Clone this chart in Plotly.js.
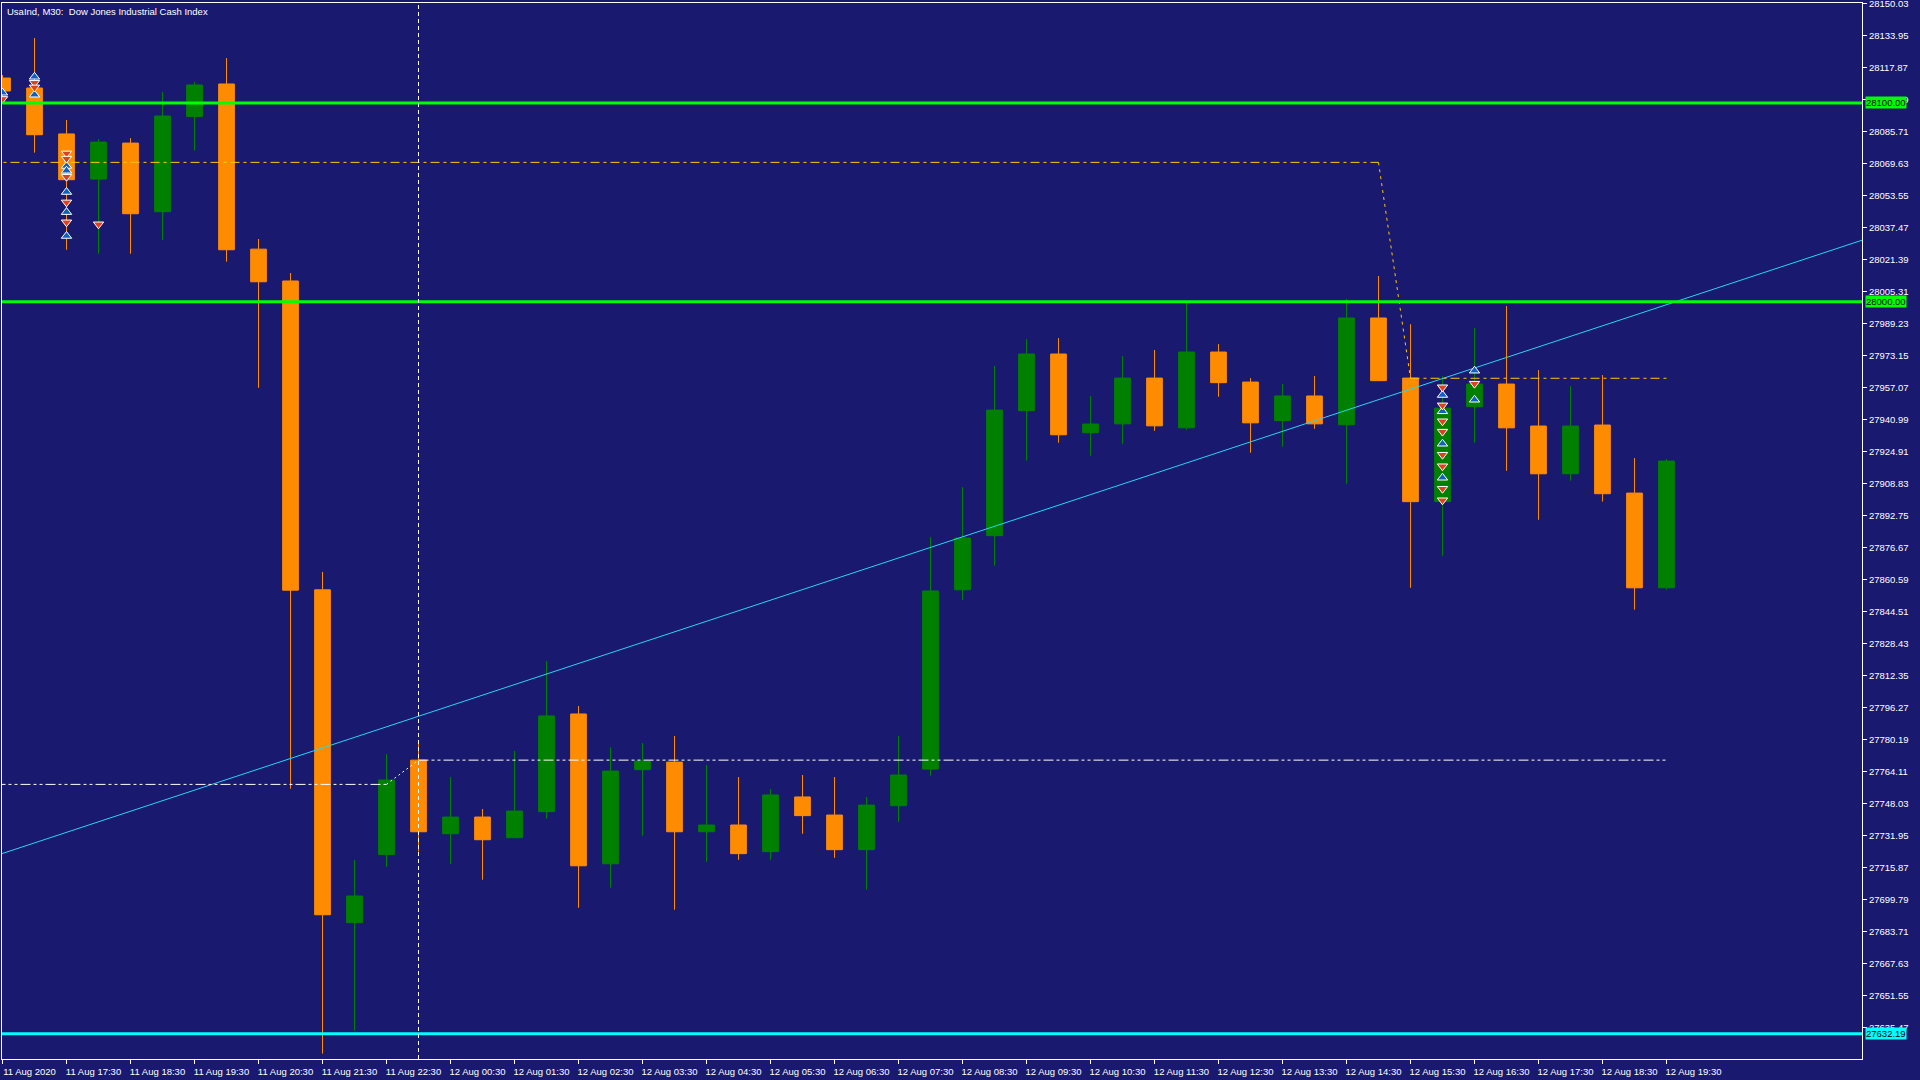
<!DOCTYPE html>
<html>
<head>
<meta charset="utf-8">
<script src="https://cdn.plot.ly/plotly-3.0.1.min.js"></script>
<style>
  html, body { margin: 0; padding: 0; background: #191970; }
  #chart { width: 1920px; height: 1080px; }
</style>
</head>
<body>
<div id="chart"></div>
<script>
// UsaInd M30, bars from 11 Aug 16:30 to 12 Aug 19:30
let opens = [28112.5, 28107.5, 28084.4, 28061.7, 28079.8, 28045.3, 28093.1, 28109.5, 28026.5, 28010.5,
    27855.3, 27688.0, 27722.2, 27769.7, 27732.7, 27741.1, 27730.7, 27743.8, 27792.9, 27717.6,
    27764.9, 27768.7, 27733.7, 27737.1, 27723.7, 27751.2, 27742.1, 27724.7, 27746.8, 27765.2,
    27855.3, 27882.5, 27945.3, 27973.8, 27934.2, 27938.7, 27961.7, 27936.7, 27974.8, 27959.7,
    27940.3, 27952.7, 27938.2, 27991.9, 27961.7, 27899.6, 27947.3, 27958.7, 27937.6, 27913.6,
    27938.1, 27903.9, 27856.3];
let highs = [28114.0, 28132.6, 28091.4, 28081.8, 28082.3, 28105.4, 28110.5, 28122.5, 28031.6, 28014.5,
    27864.3, 27719.5, 27772.8, 27779.0, 27761.2, 27745.1, 27774.3, 27819.5, 27796.9, 27776.1,
    27778.3, 27781.8, 27767.2, 27761.2, 27755.2, 27762.2, 27761.2, 27751.2, 27781.8, 27881.8,
    27906.9, 27967.8, 27981.3, 27981.8, 27952.7, 27972.8, 27975.8, 28000.5, 27978.8, 27961.7,
    27958.7, 27962.7, 28001.5, 28013.0, 27988.8, 27962.7, 27986.8, 27997.9, 27965.7, 27957.7,
    27963.2, 27921.5, 27921.0];
let lows = [28101.0, 28075.0, 28026.2, 28024.2, 28024.2, 28031.2, 28076.0, 28020.2, 27956.8, 27755.3,
    27622.2, 27633.7, 27716.1, 27723.7, 27717.6, 27709.6, 27730.7, 27740.3, 27695.5, 27705.6,
    27731.7, 27694.5, 27718.6, 27719.6, 27719.6, 27732.7, 27720.6, 27704.6, 27738.7, 27761.9,
    27850.3, 27867.4, 27920.2, 27929.2, 27922.7, 27928.7, 27935.2, 27935.7, 27952.3, 27924.2,
    27927.2, 27936.2, 27908.6, 27960.4, 27856.3, 27872.4, 27929.2, 27915.1, 27890.5, 27910.1,
    27899.6, 27845.3, 27855.3];
let closes = [28106.0, 28084.0, 28061.4, 28080.3, 28044.3, 28093.4, 28109.0, 28026.2, 28010.1, 27855.1,
    27692.0, 27701.4, 27759.7, 27733.7, 27741.1, 27729.7, 27744.1, 27791.9, 27716.6, 27764.2,
    27769.2, 27733.7, 27737.1, 27722.7, 27752.2, 27741.8, 27724.7, 27747.1, 27762.2, 27854.7,
    27881.3, 27945.6, 27973.8, 27933.2, 27938.6, 27961.7, 27937.7, 27974.8, 27959.4, 27939.2,
    27952.7, 27938.7, 27991.9, 27960.4, 27899.6, 27946.6, 27958.7, 27936.7, 27913.6, 27937.6,
    27903.6, 27856.3, 27920.0];

let xTickLabels = ['11 Aug 2020', '11 Aug 17:30', '11 Aug 18:30', '11 Aug 19:30', '11 Aug 20:30',
    '11 Aug 21:30', '11 Aug 22:30', '12 Aug 00:30', '12 Aug 01:30', '12 Aug 02:30', '12 Aug 03:30',
    '12 Aug 04:30', '12 Aug 05:30', '12 Aug 06:30', '12 Aug 07:30', '12 Aug 08:30', '12 Aug 09:30',
    '12 Aug 10:30', '12 Aug 11:30', '12 Aug 12:30', '12 Aug 13:30', '12 Aug 14:30', '12 Aug 15:30',
    '12 Aug 16:30', '12 Aug 17:30', '12 Aug 18:30', '12 Aug 19:30'];

let yTickVals = [28150.03, 28133.95, 28117.87, 28101.79, 28085.71, 28069.63, 28053.55, 28037.47,
    28021.39, 28005.31, 27989.23, 27973.15, 27957.07, 27940.99, 27924.91, 27908.83, 27892.75,
    27876.67, 27860.59, 27844.51, 27828.43, 27812.35, 27796.27, 27780.19, 27764.11, 27748.03,
    27731.95, 27715.87, 27699.79, 27683.71, 27667.63, 27651.55, 27635.47];

// horizontal levels
let greenLevels = [28100.00, 28000.00];
let cyanLevels = [27632.19];

// trend line, two anchor points (bar, price)
let trendBars = [-1, 59];
let trendPrices = [27717.5, 28035.7];

// stepped white dash-dot levels
let whiteBars = [-1, 12, 13, 52];
let whitePrices = [27757.5, 27757.5, 27769.7, 27769.7];

// stepped yellow dash-dot levels
let yellowBars = [-1, 43, 44, 52];
let yellowPrices = [28070.1, 28070.1, 27961.6, 27961.6];

// vertical marker bar
let markerBar = 13;

// trade arrows
let buyBars = [0, 1, 1, 2, 2, 2, 2, 2, 45, 45, 45, 45, 46, 46];
let buyPrices = [28105.1, 28113.1, 28104.1, 28068.3, 28065.9, 28055.2, 28045.1, 28033.1,
    27953.2, 27945.0, 27928.7, 27911.6, 27965.4, 27950.8];
let sellBars = [0, 1, 1, 2, 2, 2, 2, 2, 3, 45, 45, 45, 45, 45, 45, 45, 45, 46];
let sellPrices = [28102.0, 28110.1, 28107.8, 28074.6, 28072.0, 28062.9, 28050.0, 28040.0, 28039.0,
    27957.1, 27948.0, 27940.0, 27934.8, 27923.2, 27917.4, 27906.1, 27900.3, 27958.9];

let bars = opens.map(function (v, i) { return i; });

let bgColor = '#191970';
let axisFont = { family: 'Liberation Sans', size: 9.5, color: '#ffffff' };

function segments(xs, ys, color, dashFlat, dashStep) {
    let out = [];
    for (let i = 0; i < xs.length - 1; i++) {
        let flat = ys[i] === ys[i + 1];
        out.push({
            x: [xs[i], xs[i + 1]],
            y: [ys[i], ys[i + 1]],
            type: 'scatter',
            mode: 'lines',
            line: { color: color, width: 1, dash: flat ? dashFlat : dashStep },
            hoverinfo: 'skip'
        });
    }
    return out;
}

var data = [];

data.push({
    x: trendBars,
    y: trendPrices,
    type: 'scatter',
    mode: 'lines',
    line: { color: '#26d6f6', width: 1 },
    hoverinfo: 'skip'
});

data = data.concat(segments(whiteBars, whitePrices, '#ffffff', '10px,3px,3px,3px,3px,3px', '2px,3px'));
data = data.concat(segments(yellowBars, yellowPrices, '#ffc800', '9px,4px,3px,4px', '3px,4px'));

data.push({
    x: bars,
    open: opens,
    high: highs,
    low: lows,
    close: closes,
    type: 'candlestick',
    increasing: { line: { color: '#008000', width: 1 }, fillcolor: '#008000' },
    decreasing: { line: { color: '#ff8c00', width: 1 }, fillcolor: '#ff8c00' },
    whiskerwidth: 0,
    hoverinfo: 'skip'
});

data.push({
    x: buyBars,
    y: buyPrices,
    type: 'scatter',
    mode: 'markers',
    marker: { symbol: 'triangle-up', size: 9, color: '#1060c0', line: { color: '#ffffff', width: 1 } },
    hoverinfo: 'skip'
});

data.push({
    x: sellBars,
    y: sellPrices,
    type: 'scatter',
    mode: 'markers',
    marker: { symbol: 'triangle-down', size: 9, color: '#e0401c', line: { color: '#ffffff', width: 1 } },
    hoverinfo: 'skip'
});

var shapes = [];
greenLevels.forEach(function (lvl) {
    shapes.push({ type: 'line', xref: 'paper', x0: 0, x1: 1, yref: 'y', y0: lvl, y1: lvl,
        line: { color: '#00ff00', width: 3 } });
});
cyanLevels.forEach(function (lvl) {
    shapes.push({ type: 'line', xref: 'paper', x0: 0, x1: 1, yref: 'y', y0: lvl, y1: lvl,
        line: { color: '#00ffff', width: 3 } });
});
shapes.push({ type: 'line', xref: 'x', x0: markerBar, x1: markerBar, yref: 'paper', y0: 0, y1: 1,
    line: { color: '#ffffff', width: 1, dash: '4px,3px' } });

var annotations = [];
function levelLabel(lvl, bg) {
    return {
        xref: 'paper', x: 1, xanchor: 'left', xshift: 3,
        yref: 'y', y: lvl, yanchor: 'middle',
        text: lvl.toFixed(2),
        showarrow: false,
        bgcolor: bg,
        borderpad: 0,
        font: { family: 'Liberation Sans', size: 9.5, color: '#000000' }
    };
}
greenLevels.forEach(function (lvl) { annotations.push(levelLabel(lvl, '#00ff00')); });
cyanLevels.forEach(function (lvl) { annotations.push(levelLabel(lvl, '#00ffff')); });

annotations.push({
    xref: 'paper', x: 0, xanchor: 'left', xshift: 3,
    yref: 'paper', y: 1, yanchor: 'top', yshift: -1,
    text: 'UsaInd, M30:&nbsp; Dow Jones Industrial Cash Index',
    showarrow: false,
    font: { family: 'Liberation Sans', size: 9.5, color: '#ffffff' }
});

var layout = {
    width: 1920,
    height: 1080,
    autosize: false,
    showlegend: false,
    paper_bgcolor: bgColor,
    plot_bgcolor: bgColor,
    margin: { l: 2, r: 58, t: 3, b: 21 },
    boxgap: 0.3,
    xaxis: {
        range: [-0.016, 58.11],
        tickvals: xTickLabels.map(function (t, i) { return i * 2; }),
        ticktext: xTickLabels,
        ticks: 'outside',
        ticklen: 4,
        tickcolor: '#ffffff',
        ticklabelshift: 27,
        ticklabeloverflow: 'allow',
        tickfont: axisFont,
        showgrid: false,
        zeroline: false,
        showline: true,
        mirror: true,
        linecolor: '#ffffff',
        linewidth: 1,
        rangeslider: { visible: false }
    },
    yaxis: {
        side: 'right',
        range: [27619.5, 28150.2],
        tickvals: yTickVals,
        ticktext: yTickVals.map(function (v) { return v.toFixed(2); }),
        ticks: 'outside',
        ticklen: 4,
        tickcolor: '#ffffff',
        ticklabeloverflow: 'allow',
        tickfont: axisFont,
        showgrid: false,
        zeroline: false,
        showline: true,
        mirror: true,
        linecolor: '#ffffff',
        linewidth: 1
    },
    shapes: shapes,
    annotations: annotations
};

Plotly.newPlot('chart', data, layout, { staticPlot: true });
</script>
</body>
</html>
